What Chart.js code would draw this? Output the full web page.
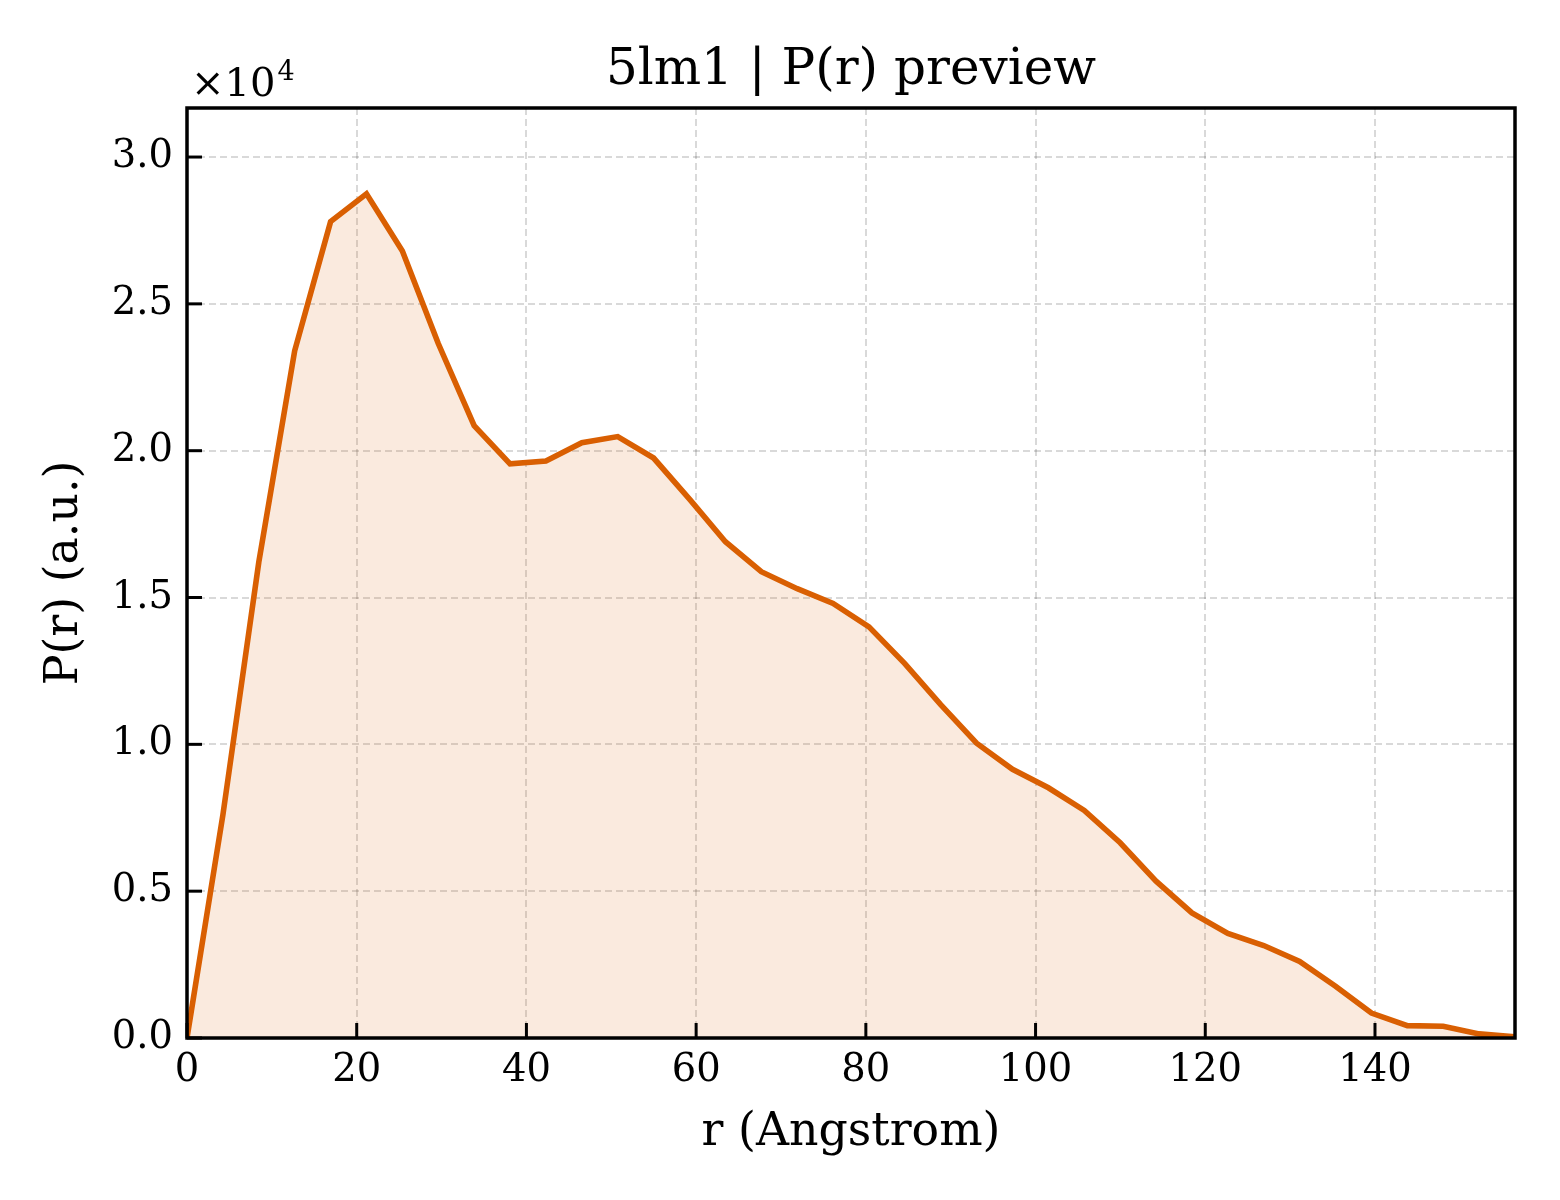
<!DOCTYPE html>
<html>
<head>
<meta charset="utf-8">
<script src="https://cdn.jsdelivr.net/npm/chart.js@4.4.1/dist/chart.umd.min.js"></script>
<style>
  html, body { margin: 0; padding: 0; background: #fff; }
  #wrap { width: 1560px; height: 1200px; }
</style>
</head>
<body>
<div id="wrap"><canvas id="prChart" width="1560" height="1200"></canvas></div>
<script>
const rValues = [0, 4.23, 8.46, 12.69, 16.92, 21.15, 25.38, 29.61, 33.84, 38.07,
  42.30, 46.53, 50.76, 54.99, 59.22, 63.45, 67.68, 71.91, 76.14, 80.37,
  84.59, 88.82, 93.05, 97.28, 101.51, 105.74, 109.97, 114.20, 118.43, 122.66,
  126.89, 131.12, 135.35, 139.58, 143.81, 148.04, 152.27, 156.50];
const prValues = [0, 7600, 16200, 23400, 27800, 28750, 26800, 23650, 20850, 19550,
  19650, 20270, 20480, 19750, 18350, 16900, 15880, 15300, 14800, 14000,
  12750, 11350, 10040, 9150, 8520, 7750, 6650, 5340, 4260, 3560,
  3150, 2610, 1760, 850, 420, 400, 140, 40];

const xTicks = [0, 20, 40, 60, 80, 100, 120, 140];
const yTicks = [0, 5000, 10000, 15000, 20000, 25000, 30000];

const titleText = "5lm1 | P(r) preview";
const xLabel = "r (Angstrom)";
const yLabel = "P(r) (a.u.)";

const serif = '"DejaVu Serif", "Liberation Serif", serif';
const lineColor = "#d95f02";

// frame, inward ticks, title and the x10^4 offset label
const framePlugin = {
  id: "frame",
  afterDraw(chart) {
    const { ctx, chartArea: a, scales } = chart;
    ctx.save();
    ctx.strokeStyle = "#000";
    ctx.lineWidth = 3;
    const tl = 15;
    scales.x.ticks.forEach((t) => {
      const px = scales.x.getPixelForValue(t.value);
      ctx.beginPath();
      ctx.moveTo(px, a.bottom);
      ctx.lineTo(px, a.bottom - tl);
      ctx.stroke();
    });
    scales.y.ticks.forEach((t) => {
      const py = scales.y.getPixelForValue(t.value);
      ctx.beginPath();
      ctx.moveTo(a.left, py);
      ctx.lineTo(a.left + tl, py);
      ctx.stroke();
    });
    ctx.lineWidth = 3.5;
    ctx.strokeRect(a.left, a.top, a.right - a.left, a.bottom - a.top);

    ctx.fillStyle = "#000";
    ctx.textAlign = "center";
    ctx.textBaseline = "alphabetic";
    ctx.font = "50px " + serif;
    ctx.fillText(titleText, (a.left + a.right) / 2, 84);

    ctx.textAlign = "left";
    ctx.font = "40px " + serif;
    ctx.fillText("\u00d710", 191, 96);
    const w = ctx.measureText("\u00d710").width;
    ctx.font = "27px " + serif;
    ctx.fillText("4", 191 + w + 2, 80);
    ctx.restore();
  }
};

new Chart(document.getElementById("prChart"), {
  type: "line",
  data: {
    datasets: [{
      data: rValues.map((r, i) => ({ x: r, y: prValues[i] })),
      borderColor: lineColor,
      backgroundColor: "rgba(217, 95, 2, 0.13)",
      borderWidth: 5.6,
      fill: "origin",
      pointRadius: 0,
      tension: 0
    }]
  },
  options: {
    responsive: false,
    animation: false,
    devicePixelRatio: 1,
    layout: { padding: { top: 108, right: 45, left: 0, bottom: 0 } },
    plugins: { legend: { display: false }, tooltip: { enabled: false } },
    scales: {
      x: {
        type: "linear",
        min: 0,
        max: 156.5,
        afterBuildTicks: (s) => { s.ticks = xTicks.map((v) => ({ value: v })); },
        afterFit: (s) => { s.height = 162; },
        grid: { color: "rgba(0,0,0,0.15)", lineWidth: 2, drawTicks: false },
        border: { display: false, dash: [7, 4] },
        ticks: { color: "#000", padding: 10, font: { family: serif, size: 38.5 }, maxRotation: 0 },
        title: { display: true, text: xLabel, color: "#000", font: { family: serif, size: 45.8 }, padding: { top: 0, bottom: 39 } }
      },
      y: {
        min: 0,
        max: 31670,
        afterBuildTicks: (s) => { s.ticks = yTicks.map((v) => ({ value: v })); },
        afterFit: (s) => { s.width = 187; },
        grid: { color: "rgba(0,0,0,0.15)", lineWidth: 2, drawTicks: false },
        border: { display: false, dash: [7, 4] },
        ticks: { color: "#000", padding: 14, font: { family: serif, size: 38.5 }, callback: (v) => (v / 10000).toFixed(1) },
        title: { display: true, text: yLabel, color: "#000", font: { family: serif, size: 45.8 }, padding: { top: 38, bottom: 0 } }
      }
    }
  },
  plugins: [framePlugin]
});
</script>
</body>
</html>
